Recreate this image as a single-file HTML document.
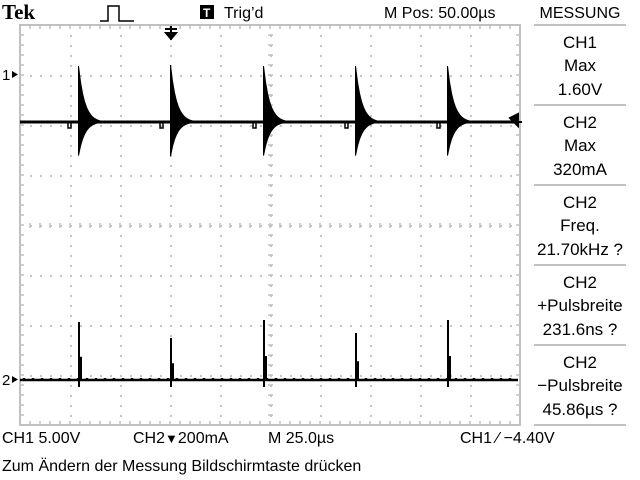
<!DOCTYPE html>
<html><head><meta charset="utf-8"><style>
html,body{margin:0;padding:0;background:#fff;}
svg{display:block;}
text{font-family:"Liberation Sans",sans-serif;fill:#000;}
</style></head><body>
<svg id="scope" width="640" height="480" viewBox="0 0 640 480">
<g id="grid"></g>
<g id="traces"></g>
<g>
<text x="2" y="19" font-weight="bold" font-size="21" style="font-family:'Liberation Serif',serif">Tek</text>
<path d="M100 21 H108 V6 H119 V21 H134" fill="none" stroke="#000" stroke-width="1.5"/>
<rect x="200" y="5" width="14" height="14" fill="#000"/>
<text x="203" y="17" font-size="12" font-weight="bold" style="fill:#fff">T</text>
<text x="224" y="18" font-size="16">Trig’d</text>
<text x="384" y="18" font-size="16">M Pos: 50.00µs</text>
<text x="580" y="18" font-size="16" text-anchor="middle">MESSUNG</text>
</g>
<g id="panel"></g>
<g>
<text x="2" y="443" font-size="16">CH1  5.00V</text>
<text x="133" y="443" font-size="16">CH2<tspan font-size="13">▼</tspan>200mA</text>
<text x="268" y="443" font-size="16">M 25.0µs</text>
<text x="460" y="443" font-size="16">CH1 ⁄ −4.40V</text>
<text x="2" y="471" font-size="16">Zum Ändern der Messung Bildschirmtaste drücken</text>
</g>
<g>
<text x="2" y="80" font-size="15">1</text>
<path d="M12 71 L18 74.5 L12 78 Z" fill="#000"/>
<text x="2" y="385" font-size="15">2</text>
<path d="M12 376 L18 379.5 L12 383 Z" fill="#000"/>
<path d="M165 29 H177 M171 26 V40 M166 33 L171 39 L176 33 Z" stroke="#000" fill="#000" stroke-width="2"/>
<path d="M510 118 L518 114 L518 126 Z M510 122 H522" stroke="#000" fill="#000" stroke-width="2"/>
</g>
</svg>
<script>
// data (time relative to screen centre, µs)
const pulseTimes=[-95.5,-49.5,-3,43,89];
const ch1Peak=[5.6,5.7,5.6,5.6,5.6]; // volts above CH1 baseline
const ch2Peak=[232,168,240,188,240]; // mA above CH2 baseline
const panelTitles=["CH1","CH2","CH2","CH2","CH2"];
const panelTypes=["Max","Max","Freq.","+Pulsbreite","−Pulsbreite"];
const panelValues=["1.60V","320mA","21.70kHz ?","231.6ns ?","45.86µs ?"];

const NS="http://www.w3.org/2000/svg";
const GX0=20,GY0=25,DIV=50;
const xScale=t=>270+t*DIV/25;          // 25 µs/div
const y1Scale=v=>122-v*DIV/5;          // 5 V/div
const y2Scale=i=>380-i*DIV/200;        // 200 mA/div
function mk(tag,attrs,parent){const e=document.createElementNS(NS,tag);for(const k in attrs)e.setAttribute(k,attrs[k]);parent.appendChild(e);return e;}

// graticule
const grid=document.getElementById('grid');
let d="";
for(let i=1;i<10;i++){const x=GX0+i*DIV;for(let y=GY0+10;y<425;y+=10)d+=`M${x} ${y}h2v2h-2z`;}
for(let j=1;j<8;j++){const y=GY0+j*DIV;for(let x=GX0+10;x<520;x+=10)d+=`M${x} ${y}h2v2h-2z`;}
const dots=mk('path',{d:d,fill:'#c4c4c4'},grid);


let t="";
for(let x=GX0+10;x<520;x+=10){t+=`M${x} 25v4M${x} 425v-4M${x} 223v5`;}
for(let y=GY0+10;y<425;y+=10){t+=`M20 ${y}h4M520 ${y}h-4M268 ${y}h5`;}
const ticks=mk('path',{d:t,stroke:'#c0c0c0','stroke-width':1.5,fill:'none'},grid);


const border=mk('rect',{x:20,y:25,width:500,height:400,fill:'none',stroke:'#c0c0c0','stroke-width':2},grid);



// traces
const tr=document.getElementById('traces');
const b1=y1Scale(0),b2=y2Scale(0);
const base1=mk('line',{x1:20,y1:b1,x2:518,y2:b1,stroke:'#000','stroke-width':3},tr);


let noise="";
for(let x=24;x<518;x+=9)noise+=`M${x} ${b2-2}v3`;
const base2=mk('path',{d:`M20 ${b2}H518`+noise,stroke:'#000','stroke-width':2.5,fill:'none'},tr);


pulseTimes.forEach((pt,i)=>{
  const x0=xScale(pt);
  const top=y1Scale(ch1Peak[i]);const amp=b1-top;
  let up=`M${x0-1} ${b1} L${x0-1} ${top}`;
  for(let k=0;k<=22;k+=2)up+=` L${x0+k} ${b1-amp*Math.exp(-k/6)}`;
  let lo="";
  for(let k=22;k>=0;k-=2)lo+=` L${x0+k} ${b1+amp*0.6*Math.exp(-k/6)}`;
  const p=mk('path',{d:up+lo+` L${x0-1} ${b1+amp*0.6} Z`,fill:'#000'},tr);
  
  
  const dip=mk('path',{d:`M${x0-11} ${b1} v6 h3 v-6`,stroke:'#000','stroke-width':1.5,fill:'none'},tr);
  
  
  const s=mk('path',{d:`M${x0} ${b2+7} V${y2Scale(ch2Peak[i])} M${x0+2} ${b2} V${y2Scale(ch2Peak[i]*0.4)}`,stroke:'#000','stroke-width':2,fill:'none'},tr);
  
  
});

// panel
const panel=document.getElementById('panel');
for(let k=0;k<=5;k++){
  const l=mk('line',{x1:534,y1:25+k*80,x2:626,y2:25+k*80,stroke:'#c0c0c0','stroke-width':2},panel);
  
  
}
panelTitles.forEach((ti,k)=>{
  const y=25+k*80;
  [[ti,23],[panelTypes[k],46],[panelValues[k],70]].forEach(([s,dy])=>{
    const e=mk('text',{x:580,y:y+dy,'font-size':17,'text-anchor':'middle'},panel);
    e.textContent=s;
    
    
  });
});
</script>
</body></html>
